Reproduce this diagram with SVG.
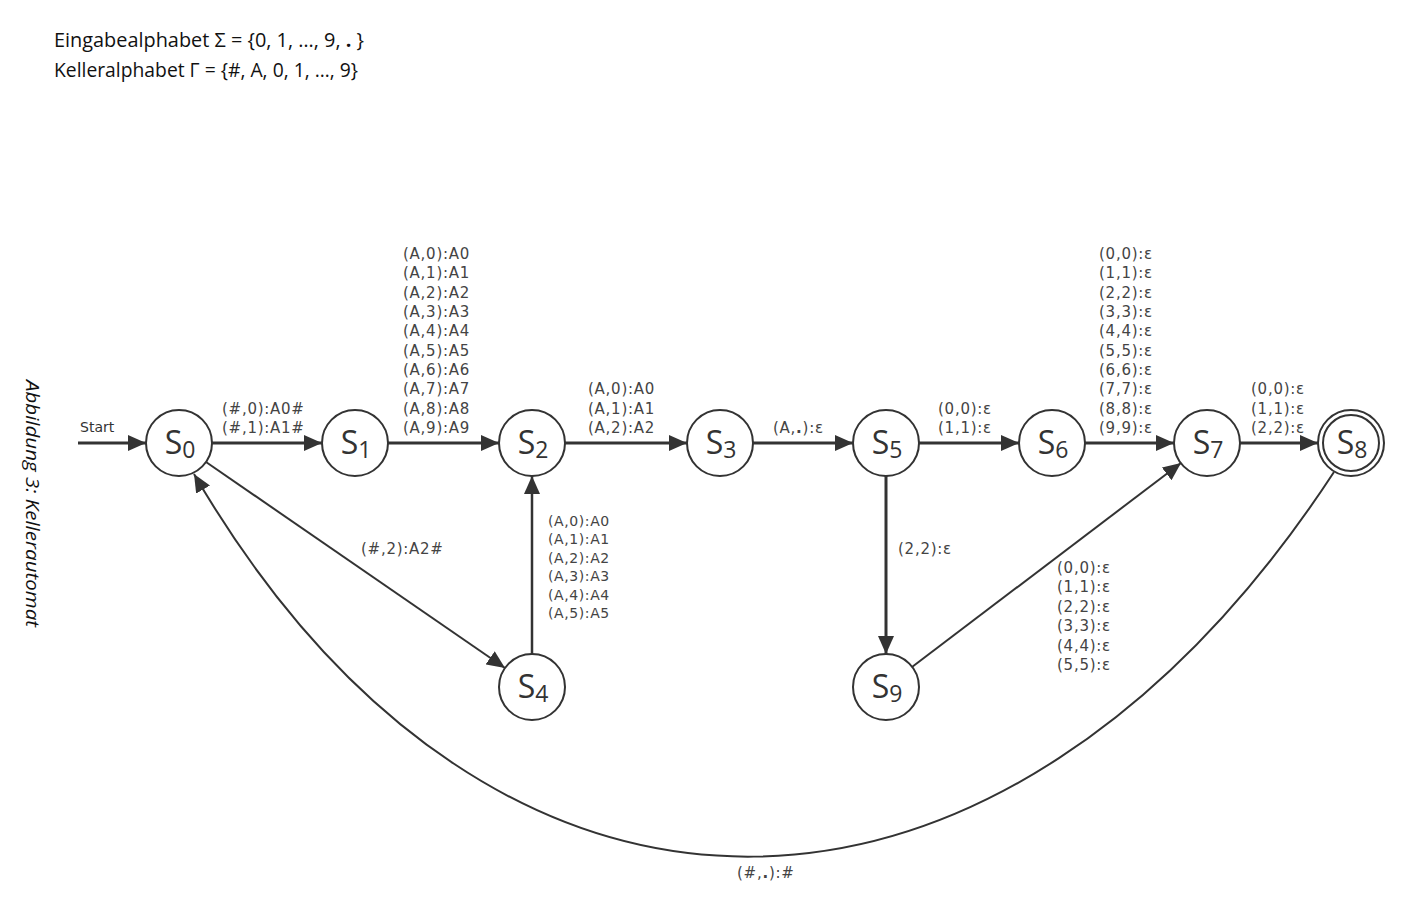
<svg xmlns="http://www.w3.org/2000/svg" width="1415" height="916" viewBox="0 0 1415 916">
<style>
.node circle{fill:#fff;stroke:#333;stroke-width:2}
.node text{font-family:"Open Sans","Noto Sans",sans-serif;font-size:32px;fill:#333;text-anchor:middle}
.node .sub{font-size:23px}
.edge{fill:none;stroke:#333}
.thick{stroke-width:3}
.thin{stroke-width:2}
.lbl{font-family:"DejaVu Sans",sans-serif;font-size:15px;letter-spacing:0.74px;fill:#444}
.lbl13{font-family:"DejaVu Sans",sans-serif;font-size:14px;letter-spacing:0.6px;fill:#444}
.hdr{font-family:"Open Sans","Noto Sans",sans-serif;font-size:19.5px;fill:#111}
</style>
<defs>
<marker id="arr" markerUnits="userSpaceOnUse" markerWidth="18" markerHeight="16" refX="18" refY="8" orient="auto">
<path d="M0,0 L18,8 L0,16 z" fill="#333"/>
</marker>
</defs>
<rect width="1415" height="916" fill="#fff"/>
<g id="header">
<text class="hdr" x="54" y="47" textLength="310" lengthAdjust="spacingAndGlyphs">Eingabealphabet Σ = {0, 1, …, 9,  <tspan font-weight="bold">.</tspan>  }</text>
<text class="hdr" x="54" y="77" textLength="304" lengthAdjust="spacingAndGlyphs">Kelleralphabet Γ = {#, A, 0, 1, …, 9}</text>
<text transform="translate(26,380) rotate(90)" font-family="Open Sans, Noto Sans, sans-serif" font-style="italic" font-size="18" fill="#111" textLength="247" lengthAdjust="spacingAndGlyphs">Abbildung 3: Kellerautomat</text>
</g>
<g id="connectors">
<path class="edge thick" d="M78,443 L146,443" marker-end="url(#arr)"/>
<path class="edge thick" d="M212,443 L322,443" marker-end="url(#arr)"/>
<path class="edge thick" d="M388,443 L499,443" marker-end="url(#arr)"/>
<path class="edge thick" d="M565,443 L687,443" marker-end="url(#arr)"/>
<path class="edge thick" d="M753,443 L853,443" marker-end="url(#arr)"/>
<path class="edge thick" d="M919,443 L1019,443" marker-end="url(#arr)"/>
<path class="edge thick" d="M1085,443 L1174,443" marker-end="url(#arr)"/>
<path class="edge thick" d="M1240,443 L1318,443" marker-end="url(#arr)"/>
<path class="edge" d="M532,654 L532,476" marker-end="url(#arr)" stroke-width="2.5"/>
<path class="edge thick" d="M886,476 L886,654" marker-end="url(#arr)"/>
<path class="edge thin" d="M206,462 L505,668" marker-end="url(#arr)"/>
<path class="edge thin" d="M912,667 L1181,463" marker-end="url(#arr)"/>
<path class="edge thin" d="M1334,472 C1004,976 497,993 194,474" marker-end="url(#arr)"/>
<text x="80" y="432" font-family="DejaVu Sans, sans-serif" font-size="14" fill="#333">Start</text>
<text class="lbl" x="222" y="413.7">(#,0):A0#</text>
<text class="lbl" x="222" y="433">(#,1):A1#</text>
<text class="lbl" x="403" y="259">(A,0):A0</text>
<text class="lbl" x="403" y="278.3">(A,1):A1</text>
<text class="lbl" x="403" y="297.7">(A,2):A2</text>
<text class="lbl" x="403" y="317">(A,3):A3</text>
<text class="lbl" x="403" y="336.3">(A,4):A4</text>
<text class="lbl" x="403" y="355.7">(A,5):A5</text>
<text class="lbl" x="403" y="375">(A,6):A6</text>
<text class="lbl" x="403" y="394.3">(A,7):A7</text>
<text class="lbl" x="403" y="413.7">(A,8):A8</text>
<text class="lbl" x="403" y="433">(A,9):A9</text>
<text class="lbl" x="588" y="394.3">(A,0):A0</text>
<text class="lbl" x="588" y="413.7">(A,1):A1</text>
<text class="lbl" x="588" y="433">(A,2):A2</text>
<text class="lbl" x="773" y="433">(A,<tspan font-weight="bold">.</tspan>):ε</text>
<text class="lbl" x="938" y="413.7">(0,0):ε</text>
<text class="lbl" x="938" y="433">(1,1):ε</text>
<text class="lbl" x="1099" y="259">(0,0):ε</text>
<text class="lbl" x="1099" y="278.3">(1,1):ε</text>
<text class="lbl" x="1099" y="297.7">(2,2):ε</text>
<text class="lbl" x="1099" y="317">(3,3):ε</text>
<text class="lbl" x="1099" y="336.3">(4,4):ε</text>
<text class="lbl" x="1099" y="355.7">(5,5):ε</text>
<text class="lbl" x="1099" y="375">(6,6):ε</text>
<text class="lbl" x="1099" y="394.3">(7,7):ε</text>
<text class="lbl" x="1099" y="413.7">(8,8):ε</text>
<text class="lbl" x="1099" y="433">(9,9):ε</text>
<text class="lbl" x="1251" y="394.3">(0,0):ε</text>
<text class="lbl" x="1251" y="413.7">(1,1):ε</text>
<text class="lbl" x="1251" y="433">(2,2):ε</text>
<text class="lbl" x="361" y="554">(#,2):A2#</text>
<text class="lbl" x="898" y="554">(2,2):ε</text>
<text class="lbl13" x="548" y="526">(A,0):A0</text>
<text class="lbl13" x="548" y="544.4">(A,1):A1</text>
<text class="lbl13" x="548" y="562.8">(A,2):A2</text>
<text class="lbl13" x="548" y="581.2">(A,3):A3</text>
<text class="lbl13" x="548" y="599.6">(A,4):A4</text>
<text class="lbl13" x="548" y="618">(A,5):A5</text>
<text class="lbl" x="1057" y="573">(0,0):ε</text>
<text class="lbl" x="1057" y="592.4">(1,1):ε</text>
<text class="lbl" x="1057" y="611.8">(2,2):ε</text>
<text class="lbl" x="1057" y="631.2">(3,3):ε</text>
<text class="lbl" x="1057" y="650.6">(4,4):ε</text>
<text class="lbl" x="1057" y="670">(5,5):ε</text>
<text class="lbl" x="737" y="878">(#,<tspan font-weight="bold">.</tspan>):#</text>
</g>
<g id="S0" class="node"><circle cx="179" cy="443" r="33"/><text x="180" y="454">S<tspan class="sub" dy="4">0</tspan></text></g>
<g id="S1" class="node"><circle cx="355" cy="443" r="33"/><text x="356" y="454">S<tspan class="sub" dy="4">1</tspan></text></g>
<g id="S2" class="node"><circle cx="532" cy="443" r="33"/><text x="533" y="454">S<tspan class="sub" dy="4">2</tspan></text></g>
<g id="S3" class="node"><circle cx="720" cy="443" r="33"/><text x="721" y="454">S<tspan class="sub" dy="4">3</tspan></text></g>
<g id="S5" class="node"><circle cx="886" cy="443" r="33"/><text x="887" y="454">S<tspan class="sub" dy="4">5</tspan></text></g>
<g id="S6" class="node"><circle cx="1052" cy="443" r="33"/><text x="1053" y="454">S<tspan class="sub" dy="4">6</tspan></text></g>
<g id="S7" class="node"><circle cx="1207" cy="443" r="33"/><text x="1208" y="454">S<tspan class="sub" dy="4">7</tspan></text></g>
<g id="S8" class="node"><circle cx="1351" cy="443" r="33"/><circle cx="1351" cy="443" r="28"/><text x="1352" y="454">S<tspan class="sub" dy="4">8</tspan></text></g>
<g id="S4" class="node"><circle cx="532" cy="687" r="33"/><text x="533" y="698">S<tspan class="sub" dy="4">4</tspan></text></g>
<g id="S9" class="node"><circle cx="886" cy="687" r="33"/><text x="887" y="698">S<tspan class="sub" dy="4">9</tspan></text></g>
</svg>
